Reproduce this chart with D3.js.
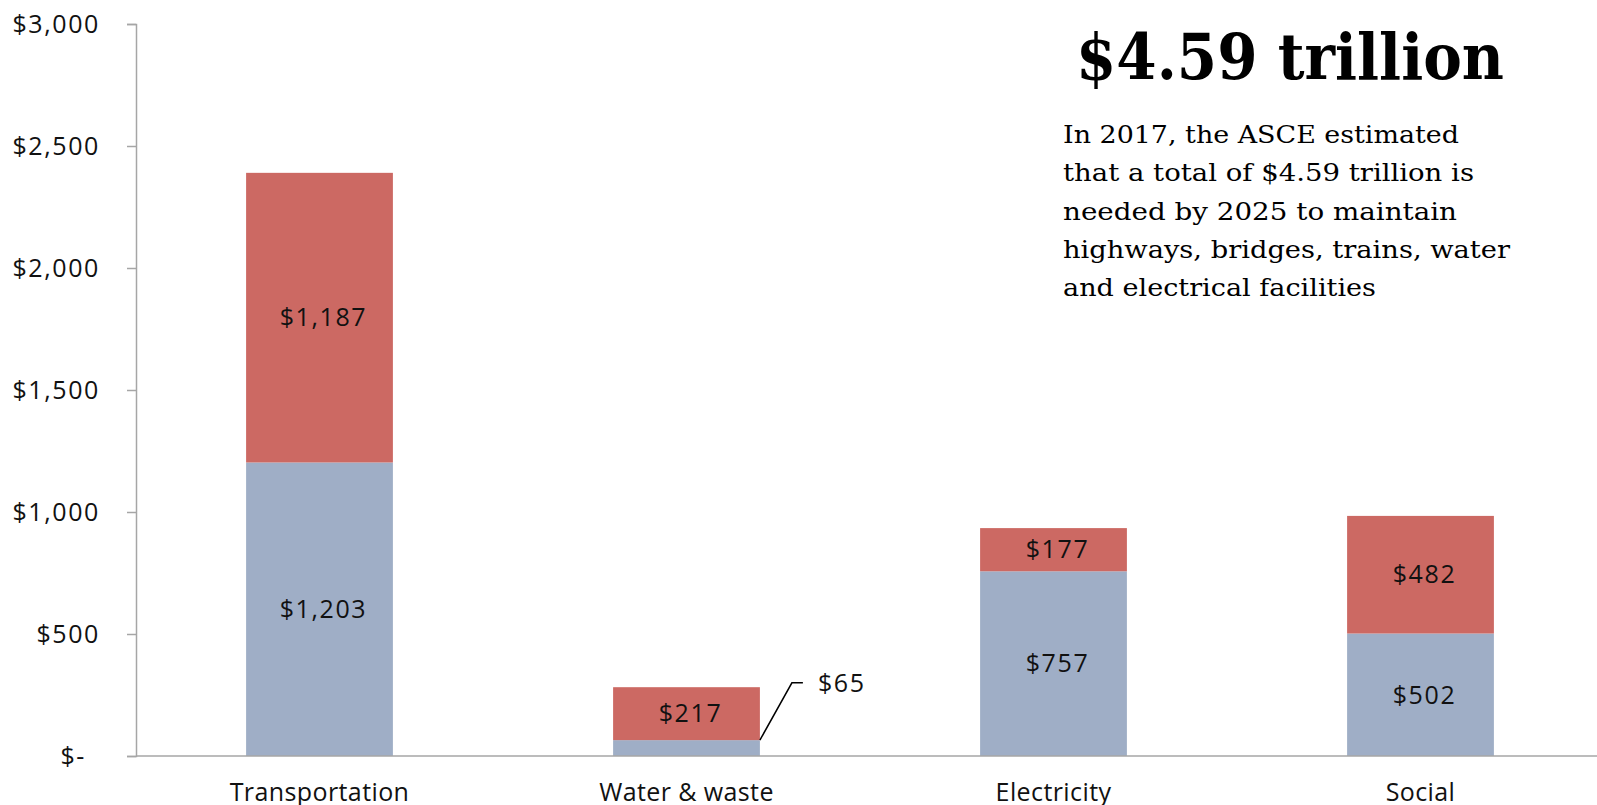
<!DOCTYPE html>
<html><head><meta charset="utf-8">
<script src="https://cdn.jsdelivr.net/npm/d3@7"></script>
<style>
html,body{margin:0;padding:0;background:#fff;overflow:hidden}
svg{display:block}
</style></head>
<body>
<script>
const categories = ["Transportation","Water & waste","Electricity","Social"];
const seriesA = [1203, 65, 757, 502];   // lower (blue)
const seriesB = [1187, 217, 177, 482];  // upper (red)
const yTicks = [0, 500, 1000, 1500, 2000, 2500, 3000];
const headline = "$4.59 trillion";
const bodyLines = ["In 2017, the ASCE estimated","that a total of $4.59 trillion is","needed by 2025 to maintain","highways, bridges, trains, water","and electrical facilities"];

const W = 1597, H = 805;
const svg = d3.select("body").append("svg").attr("width", W).attr("height", H);

const x = d3.scaleBand().domain(categories).range([136, 1604]).paddingInner(0.6).paddingOuter(0.3);
const y = d3.scaleLinear().domain([0, 3000]).range([756, 24]);

const fmt = v => v === 0 ? "$-" : "$" + d3.format(",")(v);
const labelFont = "'Open Sans', sans-serif";
const numSpacing = "1.6px";

// y axis
const yAxis = svg.append("g").attr("transform", "translate(136,0)")
  .call(d3.axisLeft(y).tickValues(yTicks).tickFormat(fmt).tickSize(9).tickPadding(27));
yAxis.select(".domain").attr("stroke", "#a6a6a6").attr("stroke-width", 1.5);
yAxis.selectAll(".tick line").attr("stroke", "#a6a6a6").attr("stroke-width", 1.5);
yAxis.selectAll(".tick text").attr("font-family", labelFont).attr("font-size", 25)
  .attr("letter-spacing", numSpacing).attr("fill", "#111")
  .attr("dx", d => d === 0 ? -14 : 0);

// stacked data
const data = categories.map((c, i) => ({cat: c, a: seriesA[i], b: seriesB[i]}));
const stack = d3.stack().keys(["a", "b"])(data);
const colors = {a: "#9faec6", b: "#cc6963"};

stack.forEach(layer => {
  svg.append("g").selectAll("rect").data(layer).join("rect")
    .attr("x", d => x(d.data.cat))
    .attr("width", x.bandwidth())
    .attr("y", d => y(d[1]))
    .attr("height", d => y(d[0]) - y(d[1]))
    .attr("fill", colors[layer.key]);
});

// x axis baseline
svg.append("line").attr("x1", 136).attr("x2", W).attr("y1", y(0)).attr("y2", y(0))
  .attr("stroke", "#a6a6a6").attr("stroke-width", 1.5);

// category labels
svg.append("g").selectAll("text").data(categories).join("text")
  .attr("x", d => x(d) + x.bandwidth() / 2)
  .attr("y", 801)
  .attr("text-anchor", "middle")
  .attr("font-family", labelFont).attr("font-size", 25).attr("letter-spacing", "0.4px").attr("fill", "#111")
  .text(d => d);

// data labels
stack.forEach(layer => {
  layer.forEach(d => {
    const v = d[1] - d[0];
    const cx = x(d.data.cat) + x.bandwidth() / 2;
    if (layer.key === "a" && d.data.cat === "Water & waste") {
      const right = x(d.data.cat) + x.bandwidth();
      const yTop = y(d[1]);
      const ly = y(300);
      svg.append("polyline")
        .attr("points", [[right, yTop], [right + 32, ly], [right + 43, ly]].map(p => p.join(",")).join(" "))
        .attr("fill", "none").attr("stroke", "#000").attr("stroke-width", 1.5);
      svg.append("text").attr("x", right + 58).attr("y", ly).attr("dy", "0.35em")
        .attr("font-family", labelFont).attr("font-size", 25).attr("letter-spacing", numSpacing).attr("fill", "#111")
        .text(fmt(v));
      return;
    }
    svg.append("text").attr("x", cx + 4).attr("y", (y(d[0]) + y(d[1])) / 2).attr("dy", "0.35em")
      .attr("text-anchor", "middle")
      .attr("font-family", labelFont).attr("font-size", 25).attr("letter-spacing", numSpacing).attr("fill", "#111")
      .text(fmt(v));
  });
});

// headline
svg.append("text").attr("x", 1076).attr("y", 79)
  .attr("font-family", "'DejaVu Serif', serif").attr("font-weight", "bold").attr("font-size", 63)
  .attr("textLength", 428).attr("lengthAdjust", "spacingAndGlyphs")
  .attr("fill", "#000").text(headline);

// body text
const bodyWidths = [396, 411, 394, 447, 313];
svg.append("g").selectAll("text").data(bodyLines).join("text")
  .attr("x", 1063).attr("y", (d, i) => 143 + i * 38.3)
  .attr("font-family", "'DejaVu Serif', serif").attr("font-size", 24).attr("fill", "#000")
  .attr("textLength", (d, i) => bodyWidths[i]).attr("lengthAdjust", "spacingAndGlyphs")
  .text(d => d);
</script>
</body></html>
